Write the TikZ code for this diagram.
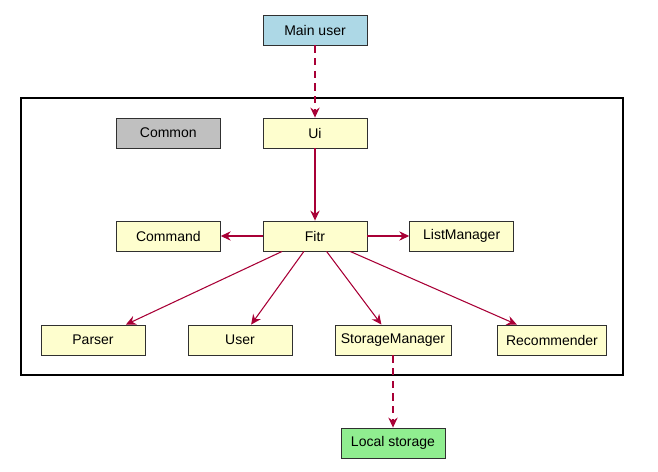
\documentclass[tikz,border=0pt]{standalone}
\usepackage{fontspec}
\setmainfont{Liberation Sans}
\usetikzlibrary{arrows.meta}

\definecolor{classfill}{HTML}{FEFECE}
\definecolor{userblue}{HTML}{ADD8E6}
\definecolor{commongray}{HTML}{C0C0C0}
\definecolor{storegreen}{HTML}{90EE90}
\definecolor{linkred}{HTML}{A80036}
\definecolor{boxline}{HTML}{303030}

\begin{document}
\begin{tikzpicture}[->,>={Stealth[length=7.5pt,width=7pt,inset=2.5pt]},x=0.75pt,y=-0.75pt,
  node distance=77.25pt,
  box/.style={rectangle,draw=boxline,line width=0.65pt,fill=classfill,minimum width=78pt,
    minimum height=22.5pt,inner sep=2pt,font=\fontsize{10.5}{12}\selectfont},
  every edge/.style={draw=linkred,line width=0.8pt}]

 \useasboundingbox (0,0) rectangle (658,472);
 \draw[-,draw=black,line width=1.1pt] (21,98) rectangle (623,375);

 \node[box,fill=userblue] (main) at (315,30) {Main user};
 \node[box] (ui) [below of=main] {Ui};
 \node[box,fill=commongray] (common) [left of=ui,node distance=110pt] {Common};
 \node[box] (fitr) [below of=ui] {Fitr};
 \node[box] (command) [left of=fitr,node distance=110pt] {Command};
 \node[box] (list) [right of=fitr,node distance=110pt] {ListManager};
 \node[box] (parser) at (93,340) {Parser};
 \node[box] (user) at (240,340) {User};
 \node[box,minimum width=87pt] (storage) at (393,340) {StorageManager};
 \node[box,minimum width=82pt] (recommender) at (552,340) {Recommender};
 \node[box,fill=storegreen] (local) [below of=storage] {Local storage};

 \path
    (main)    edge [dash pattern=on 5.5pt off 4pt] (ui)
    (ui)      edge (fitr)
    (fitr)    edge (command)
    (fitr)    edge (list)
    (fitr)    edge (parser)
    (fitr)    edge (user)
    (fitr)    edge (storage)
    (fitr)    edge (recommender)
    (storage) edge [dash pattern=on 5.5pt off 4pt] (local);

\end{tikzpicture}
\end{document}
